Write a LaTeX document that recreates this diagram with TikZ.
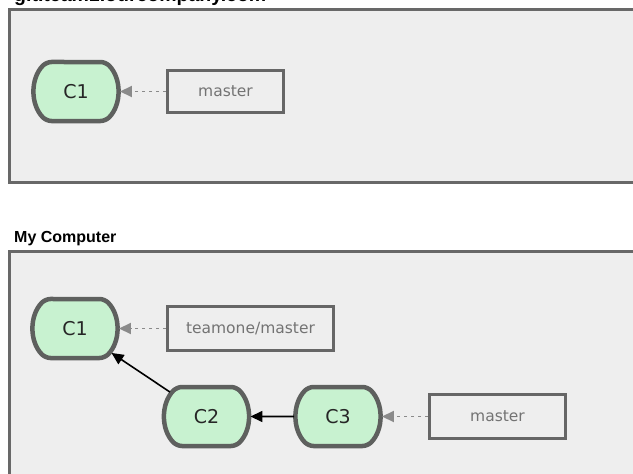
\documentclass[tikz,border=0pt]{standalone}
\usepackage{fontspec}
\setmainfont{DejaVu Sans}
\newfontfamily\titlefont{Liberation Sans}
\usetikzlibrary{shapes.misc,arrows.meta}
\definecolor{panelfill}{HTML}{EEEEEE}
\definecolor{panelline}{HTML}{686868}
\definecolor{commitfill}{HTML}{C8F2D0}
\definecolor{commitline}{HTML}{5E605E}
\definecolor{labeltext}{HTML}{737373}
\definecolor{refline}{HTML}{666666}
\definecolor{dashgray}{HTML}{8A8A8A}
\tikzset{
  panel/.style={draw=panelline, fill=panelfill, line width=3pt},
  paneltitle/.style={font=\titlefont\bfseries\fontsize{16}{18}\selectfont, anchor=base west, inner sep=0pt},
  commit/.style={rounded rectangle, rounded rectangle arc length=90, rounded corners=5pt,
    draw=commitline, fill=commitfill, line width=4.5pt,
    minimum width=78pt, minimum height=59pt, inner sep=0pt,
    font=\fontsize{19}{21}\selectfont, text=black!85},
  refbox/.style={rectangle, draw=refline, fill=panelfill, line width=3pt,
    minimum height=42pt, inner sep=0pt, font=\fontsize{15.5}{17}\selectfont, text=labeltext},
  refarrow/.style={draw=dashgray, line width=1.8pt, dash pattern=on 3.5pt off 3.5pt,
    -{Triangle[length=12pt,width=11pt]}},
  parentarrow/.style={draw=black, line width=1.6pt, -{Triangle[length=12pt,width=11pt]}}
}
\begin{document}
\begin{tikzpicture}[x=1pt,y=-1pt]
\useasboundingbox (0,0) rectangle (633,474);
\fill[white] (0,0) rectangle (633,474);
% panels
\draw[panel] (9.5,9.5) rectangle (660,182);
\draw[panel] (9.5,251) rectangle (660,500);
\node[paneltitle, font=\titlefont\bfseries\fontsize{19.5}{21}\selectfont] (t1) at (14,1.5) {git.team1.ourcompany.com};
\node[paneltitle] (t2) at (14,242) {My Computer};
% server
\node[commit] (s1) at (76,91.5) {C1};
\node[refbox, minimum width=116pt] (smaster) at (225.5,91.5) {master};
\draw[refarrow] (smaster.west) -- (s1.east);
% local
\node[commit] (c1) at (75,328.5) {C1};
\node[commit] (c2) at (206.5,416.5) {C2};
\node[commit] (c3) at (338,416.5) {C3};
\node[refbox, minimum width=166pt, minimum height=44pt] (tm) at (250.5,328.5) {teamone/master};
\node[refbox, minimum width=136pt, minimum height=44pt] (lmaster) at (497.5,416.5) {master};
\draw[refarrow] (tm.west) -- (c1.east);
\draw[refarrow] (lmaster.west) -- (c3.east);
\draw[parentarrow] (c2) -- (c1);
\draw[parentarrow] (c3) -- (c2);
\end{tikzpicture}
\end{document}
